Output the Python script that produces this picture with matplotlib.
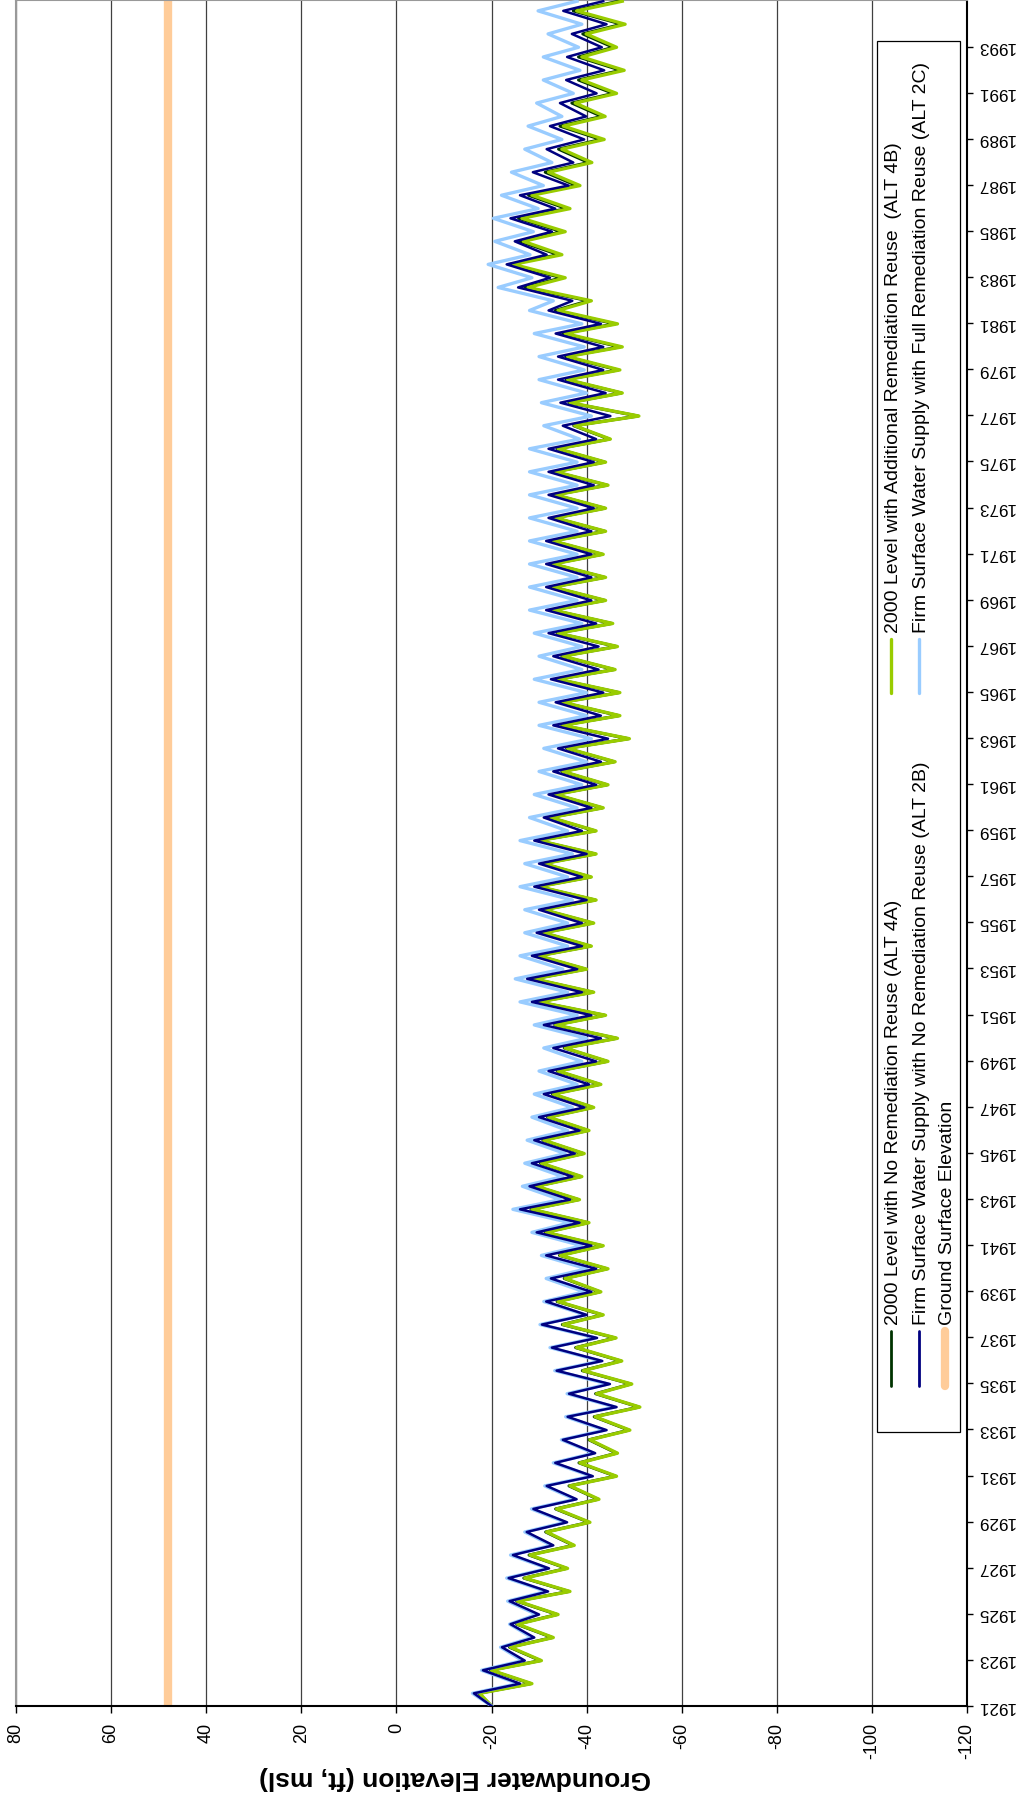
import matplotlib
matplotlib.use("Agg")
import matplotlib.pyplot as plt
from matplotlib.lines import Line2D
from matplotlib.patches import Rectangle

plt.rcParams['font.family'] = ['Liberation Sans', 'DejaVu Sans']
plt.rcParams['axes.unicode_minus'] = False

# water years, one seasonal high and one seasonal low per year (ft, msl)
years = list(range(1921, 1995))
start_level = -20.0
ground_elev = 48.0

# Firm Surface Water Supply with Full Remediation Reuse (ALT 2C)
alt2c_high = [-16.0, -17.9, -21.9, -23.8, -23.4, -23.2, -24.0, -27.0, -28.4, -31.2,
              -33.0, -34.7, -35.6, -35.9, -33.3, -32.3, -30.2, -31.0, -31.5, -30.5,
              -28.5, -24.5, -26.5, -27.0, -27.5, -28.5, -29.0, -30.0, -31.0, -29.0,
              -26.0, -25.0, -26.0, -27.0, -27.0, -26.0, -27.0, -26.0, -28.0, -29.0,
              -30.0, -31.0, -30.0, -30.0, -29.0, -30.0, -29.0, -28.0, -28.0, -28.0,
              -28.0, -28.0, -28.0, -28.0, -28.0, -31.0, -30.5, -30.0, -30.0, -29.0,
              -28.0, -21.4, -19.3, -20.7, -20.4, -22.1, -24.2, -27.0, -27.7, -29.5,
              -30.9, -30.9, -31.9, -29.8]
alt2c_low = [-25.6, -26.5, -28.5, -29.5, -31.5, -31.8, -32.6, -35.5, -37.5, -41.0,
             -41.5, -43.8, -46.0, -44.5, -43.0, -41.9, -39.7, -39.5, -40.0, -39.0,
             -36.5, -34.5, -35.0, -35.5, -36.0, -37.0, -38.0, -39.0, -40.0, -38.0,
             -36.0, -35.0, -36.0, -36.0, -37.0, -36.0, -37.0, -36.0, -38.0, -39.0,
             -40.0, -41.0, -40.0, -40.0, -39.0, -39.0, -39.0, -38.0, -38.0, -38.0,
             -38.0, -38.0, -38.0, -38.0, -38.5, -41.0, -40.0, -39.5, -39.5, -39.0,
             -33.0, -28.5, -28.1, -28.8, -29.8, -30.9, -32.7, -34.8, -34.8, -37.2,
             -38.6, -38.3, -39.0, -38.0]

# Firm Surface Water Supply with No Remediation Reuse (ALT 2B)
alt2b_high = [-16.3, -18.2, -22.2, -24.0, -23.8, -23.6, -24.5, -27.4, -28.8, -31.6,
              -33.4, -35.0, -36.0, -36.3, -33.7, -32.7, -30.6, -31.5, -32.5, -31.5,
              -29.5, -26.0, -28.0, -28.5, -29.0, -30.0, -31.0, -32.0, -33.0, -31.0,
              -28.5, -27.5, -28.5, -29.5, -30.0, -29.0, -30.0, -29.0, -31.0, -32.0,
              -33.0, -34.0, -33.0, -33.5, -32.5, -33.0, -32.0, -31.5, -31.5, -31.5,
              -31.5, -32.0, -32.0, -32.0, -32.0, -35.0, -34.5, -34.0, -34.0, -33.5,
              -32.0, -25.6, -23.2, -24.9, -24.0, -26.0, -28.7, -31.6, -32.3, -34.4,
              -35.7, -35.9, -36.9, -35.1]
alt2b_low = [-26.0, -27.0, -29.0, -30.0, -31.9, -32.1, -33.0, -35.9, -37.9, -41.3,
             -41.8, -44.2, -46.3, -44.9, -43.3, -42.2, -40.0, -41.0, -42.0, -41.0,
             -38.5, -36.5, -37.0, -37.5, -38.5, -39.5, -40.5, -42.0, -43.0, -41.0,
             -39.0, -38.0, -39.0, -39.0, -40.0, -39.0, -40.0, -39.0, -41.0, -42.0,
             -43.0, -44.5, -43.0, -43.5, -42.5, -42.5, -42.0, -41.0, -41.0, -41.0,
             -41.0, -41.5, -41.5, -41.5, -42.0, -45.0, -44.0, -43.5, -43.5, -43.0,
             -37.0, -32.3, -31.6, -32.7, -33.4, -36.2, -37.2, -39.5, -39.9, -42.1,
             -43.7, -43.2, -44.2, -43.5]

# 2000 Level with Additional Remediation Reuse (ALT 4B)
alt4b_high = [-17.5, -20.0, -24.0, -25.5, -25.5, -27.0, -28.1, -31.6, -33.7, -36.5,
              -38.6, -40.7, -41.8, -42.1, -39.3, -37.9, -35.1, -34.0, -35.5, -34.5,
              -31.5, -28.5, -29.5, -30.5, -31.0, -32.0, -33.0, -34.0, -35.5, -33.5,
              -30.0, -29.0, -30.0, -31.0, -31.0, -30.0, -31.0, -30.0, -32.5, -33.5,
              -35.0, -36.0, -35.0, -35.0, -34.0, -35.0, -34.0, -33.0, -33.0, -33.0,
              -33.0, -33.5, -33.5, -33.5, -34.0, -37.5, -36.5, -36.0, -36.0, -35.5,
              -34.0, -27.7, -24.6, -26.7, -26.4, -28.5, -32.0, -34.8, -35.1, -37.6,
              -39.0, -39.0, -39.9, -37.9]
alt4b_low = [-28.5, -30.5, -33.0, -34.0, -36.5, -36.0, -37.4, -40.7, -42.6, -46.3,
             -46.5, -49.1, -51.2, -49.5, -47.4, -46.2, -43.5, -43.0, -44.5, -43.5,
             -40.5, -38.5, -39.0, -39.5, -40.5, -41.5, -43.0, -44.5, -46.5, -44.0,
             -41.5, -40.0, -41.0, -41.5, -42.0, -41.0, -42.0, -42.0, -43.5, -44.5,
             -46.0, -49.0, -47.0, -47.0, -46.0, -46.5, -45.5, -44.0, -44.0, -43.5,
             -44.0, -44.0, -44.5, -44.0, -45.0, -51.0, -47.5, -47.0, -47.5, -46.5,
             -41.0, -35.5, -34.8, -35.5, -36.5, -38.6, -41.1, -43.7, -43.9, -46.3,
             -47.9, -46.3, -48.1, -47.5]

# 2000 Level with No Remediation Reuse (ALT 4A)
alt4a_high = [-17.3, -19.8, -23.8, -25.3, -25.3, -26.8, -27.9, -31.4, -33.5, -36.3,
              -38.4, -40.5, -41.6, -41.9, -39.1, -37.7, -34.9, -33.8, -35.3, -34.3,
              -31.3, -28.3, -29.3, -30.3, -30.8, -31.8, -32.8, -33.8, -35.3, -33.3,
              -29.8, -28.8, -29.8, -30.8, -30.8, -29.8, -30.8, -29.8, -32.3, -33.3,
              -34.8, -35.8, -34.8, -34.8, -33.8, -34.8, -33.8, -32.8, -32.8, -32.8,
              -32.8, -33.3, -33.3, -33.3, -33.8, -37.3, -36.3, -35.7, -35.6, -35.0,
              -33.4, -27.0, -23.9, -26.0, -25.7, -27.8, -31.3, -34.1, -34.4, -36.9,
              -38.3, -38.3, -39.2, -37.2]
alt4a_low = [-28.3, -30.3, -32.8, -33.8, -36.3, -35.8, -37.2, -40.5, -42.4, -46.1,
             -46.3, -48.9, -51.0, -49.3, -47.2, -46.0, -43.3, -42.8, -44.3, -43.3,
             -40.3, -38.3, -38.8, -39.3, -40.3, -41.3, -42.8, -44.3, -46.3, -43.8,
             -41.3, -39.8, -40.8, -41.3, -41.8, -40.8, -41.8, -41.8, -43.3, -44.3,
             -45.8, -48.8, -46.8, -46.8, -45.8, -46.3, -45.3, -43.8, -43.8, -43.3,
             -43.8, -43.8, -44.3, -43.8, -44.8, -50.8, -47.3, -46.6, -47.0, -46.0,
             -40.4, -34.8, -34.1, -34.8, -35.8, -37.9, -40.4, -43.0, -43.2, -45.6,
             -47.2, -45.6, -47.4, -46.8]


def build(high, low):
    t = [years[0]]
    v = [start_level]
    for i, y in enumerate(years):
        t += [y + 0.55, y + 0.97]
        v += [high[i], low[i]]
    return t, v


W, H = 1027, 1801
fig = plt.figure(figsize=(W / 100, H / 100), dpi=100)
ax = fig.add_axes([16 / W, 95 / H, (967 - 16) / W, (H - 95) / H - 0.5 / H])

# chart is drawn turned on its side: elevation runs across, time runs up
t, v = build(alt4a_high, alt4a_low)
ax.plot(v, t, color='#003300', lw=2.2, zorder=3)
t, v = build(alt4b_high, alt4b_low)
ax.plot(v, t, color='#99CC00', lw=2.4, zorder=4)
t, v = build(alt2c_high, alt2c_low)
ax.plot(v, t, color='#99CCFF', lw=2.4, zorder=5)
t, v = build(alt2b_high, alt2b_low)
ax.plot(v, t, color='#000080', lw=1.8, zorder=6)
ax.plot([ground_elev, ground_elev], [1921, 1995], color='#FFCC99', lw=6, zorder=2)

ax.set_xlim(80, -120)
ax.set_ylim(1921, 1995)
ax.set_xticks(range(80, -121, -20))
ax.set_yticks(range(1921, 1994, 2))
ax.grid(axis='x', color='#404040', lw=0.9, zorder=1)
ax.grid(axis='y', visible=False)
ax.yaxis.tick_right()
ax.tick_params(axis='x', direction='out', length=5, width=1, pad=7,
               labelsize=13, labelrotation=90)
ax.tick_params(axis='y', direction='out', length=4, width=1, pad=3, labelsize=12.3)
for lab in ax.get_yticklabels():
    lab.set_rotation(180)
    lab.set_va('center')
for s in ['left', 'top']:
    ax.spines[s].set_color('#999999')
    ax.spines[s].set_linewidth(1.5)
for s in ['bottom', 'right']:
    ax.spines[s].set_color('black')
    ax.spines[s].set_linewidth(1.5)

fig.text(455 / W, 1 - 1778 / H, 'Groundwater Elevation (ft, msl)', rotation=180,
         ha='center', va='center', fontsize=19, fontweight='bold')


# legend, drawn by hand so its text can run along the turned chart
def fx(x):
    return x / W


def fy(y):
    return 1 - y / H


fig.add_artist(Rectangle((fx(877), fy(1432)), (960 - 877) / W, (1432 - 41) / H,
                         transform=fig.transFigure, facecolor='white',
                         edgecolor='black', lw=0.9, zorder=10))

entries = [
    (891, 1386, 1331, '#003300', 2, '2000 Level with No Remediation Reuse (ALT 4A)'),
    (919, 1386, 1331, '#000080', 2, 'Firm Surface Water Supply with No Remediation Reuse (ALT 2B)'),
    (945, 1386, 1331, '#FFCC99', 6, 'Ground Surface Elevation'),
    (891, 693, 639, '#99CC00', 2.4, '2000 Level with Additional Remediation Reuse  (ALT 4B)'),
    (919, 693, 639, '#99CCFF', 2.4, 'Firm Surface Water Supply with Full Remediation Reuse (ALT 2C)'),
]
for x, y0, y1, c, w, label in entries:
    fig.add_artist(Line2D([fx(x), fx(x)], [fy(y0), fy(y1)], transform=fig.transFigure,
                          color=c, lw=w, solid_capstyle='round', zorder=11))
    fig.text(fx(x + 2), fy(y1 - 6), label, rotation=90, rotation_mode='anchor',
             ha='left', va='center', fontsize=14, zorder=12)

fig.savefig('out.png', dpi=100)
